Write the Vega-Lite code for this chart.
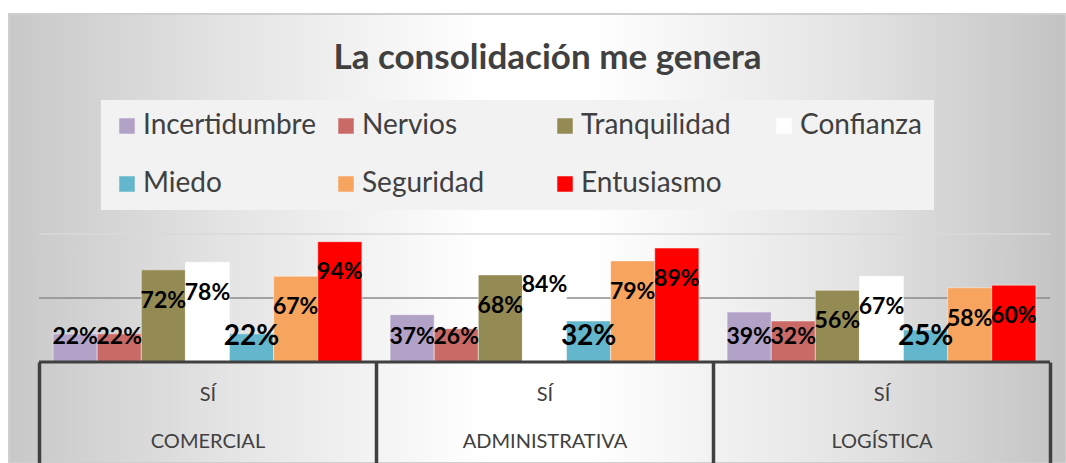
{
  "$schema": "https://vega.github.io/schema/vega-lite/v6.json",
  "width": 1057,
  "height": 449,
  "autosize": {"type": "none"},
  "padding": {"left": 9, "top": 14, "right": 0, "bottom": 0},
  "background": "#ffffff",
  "view": {
    "stroke": "#cfcfcf",
    "strokeWidth": 2,
    "fill": {
      "gradient": "linear", "x1": 0, "y1": 0, "x2": 1, "y2": 0,
      "stops": [
        {"offset": 0, "color": "#c8c8c8"},
        {"offset": 0.2, "color": "#e3e3e3"},
        {"offset": 0.45, "color": "#ffffff"},
        {"offset": 0.55, "color": "#ffffff"},
        {"offset": 0.8, "color": "#e3e3e3"},
        {"offset": 1, "color": "#c3c3c3"}
      ]
    }
  },
  "title": {
    "text": "La consolidación me genera",
    "font": "Lato",
    "fontSize": 35,
    "fontWeight": "bold",
    "color": "#404040",
    "frame": "group",
    "anchor": "middle",
    "baseline": "alphabetic",
    "offset": -90,
    "dx": 10
  },
  "datasets": {
    "barras": [
      {"grupo": "COMERCIAL", "emocion": "Incertidumbre", "valor": 0.22},
      {"grupo": "COMERCIAL", "emocion": "Nervios", "valor": 0.22},
      {"grupo": "COMERCIAL", "emocion": "Tranquilidad", "valor": 0.72},
      {"grupo": "COMERCIAL", "emocion": "Confianza", "valor": 0.78},
      {"grupo": "COMERCIAL", "emocion": "Miedo", "valor": 0.22},
      {"grupo": "COMERCIAL", "emocion": "Seguridad", "valor": 0.67},
      {"grupo": "COMERCIAL", "emocion": "Entusiasmo", "valor": 0.94},
      {"grupo": "ADMINISTRATIVA", "emocion": "Incertidumbre", "valor": 0.37},
      {"grupo": "ADMINISTRATIVA", "emocion": "Nervios", "valor": 0.26},
      {"grupo": "ADMINISTRATIVA", "emocion": "Tranquilidad", "valor": 0.68},
      {"grupo": "ADMINISTRATIVA", "emocion": "Confianza", "valor": 0.84},
      {"grupo": "ADMINISTRATIVA", "emocion": "Miedo", "valor": 0.32},
      {"grupo": "ADMINISTRATIVA", "emocion": "Seguridad", "valor": 0.79},
      {"grupo": "ADMINISTRATIVA", "emocion": "Entusiasmo", "valor": 0.89},
      {"grupo": "LOGÍSTICA", "emocion": "Incertidumbre", "valor": 0.39},
      {"grupo": "LOGÍSTICA", "emocion": "Nervios", "valor": 0.32},
      {"grupo": "LOGÍSTICA", "emocion": "Tranquilidad", "valor": 0.56},
      {"grupo": "LOGÍSTICA", "emocion": "Confianza", "valor": 0.67},
      {"grupo": "LOGÍSTICA", "emocion": "Miedo", "valor": 0.25},
      {"grupo": "LOGÍSTICA", "emocion": "Seguridad", "valor": 0.58},
      {"grupo": "LOGÍSTICA", "emocion": "Entusiasmo", "valor": 0.60}
    ],
    "grupos": [
      {"grupo": "COMERCIAL"},
      {"grupo": "ADMINISTRATIVA"},
      {"grupo": "LOGÍSTICA"}
    ]
  },
  "resolve": {"scale": {"y": "independent"}},
  "layer": [
    {
      "data": {"name": "grupos"},
      "mark": {"type": "rect", "fill": null, "stroke": "#d9d9d9", "strokeWidth": 1},
      "encoding": {
        "x": {"field": "grupo", "type": "nominal", "scale": {"domain": ["COMERCIAL", "ADMINISTRATIVA", "LOGÍSTICA"], "paddingInner": 0, "paddingOuter": 0.0682, "align": 0.652},
          "axis": {"orient": "bottom", "title": null, "domain": false, "ticks": true, "tickBand": "extent", "tickSize": -101, "tickColor": "#404040", "tickWidth": 3.5, "labelAngle": 0, "labelExpr": "datum.label === '' ? '' : ['SÍ', datum.label]", "labelLineHeight": 47, "labelFont": "Lato", "labelFontSize": 20, "labelColor": "#404040", "labelPadding": 22, "labelBaseline": "top"}},
        "y": {"datum": 1, "type": "quantitative", "scale": {"domain": [-0.789, 2.719], "nice": false, "zero": false}, "axis": null},
        "y2": {"datum": 1}
      }
    },
    {
      "data": {"name": "grupos"},
      "mark": {"type": "rect", "fill": null, "stroke": "#8c8c8c", "strokeWidth": 1},
      "encoding": {
        "x": {"field": "grupo", "type": "nominal", "scale": {"domain": ["COMERCIAL", "ADMINISTRATIVA", "LOGÍSTICA"], "paddingInner": 0, "paddingOuter": 0.0682, "align": 0.652}},
        "y": {"datum": 0.5, "type": "quantitative", "scale": {"domain": [-0.789, 2.719], "nice": false, "zero": false}, "axis": null},
        "y2": {"datum": 0.5}
      }
    },
    {
      "data": {"name": "barras"},
      "mark": {"type": "bar", "stroke": "#ffffff", "strokeOpacity": 0.45, "strokeWidth": 1},
      "encoding": {
        "x": {"field": "grupo", "type": "nominal", "scale": {"domain": ["COMERCIAL", "ADMINISTRATIVA", "LOGÍSTICA"], "paddingInner": 0, "paddingOuter": 0.0682, "align": 0.652}},
        "xOffset": {"field": "emocion", "type": "nominal", "scale": {"domain": ["Incertidumbre", "Nervios", "Tranquilidad", "Confianza", "Miedo", "Seguridad", "Entusiasmo"], "paddingInner": 0, "paddingOuter": 0.32}},
        "y": {"field": "valor", "type": "quantitative", "scale": {"domain": [-0.789, 2.719], "nice": false, "zero": false}, "axis": null},
        "y2": {"datum": 0},
        "color": {"field": "emocion", "type": "nominal",
          "scale": {"domain": ["Incertidumbre", "Nervios", "Tranquilidad", "Confianza", "Miedo", "Seguridad", "Entusiasmo"],
                    "range": ["#b3a2c7", "#c96a66", "#948a54", "#ffffff", "#63b6cc", "#f7a45e", "#ff0000"]},
          "legend": {"orient": "none", "direction": "horizontal", "legendX": 92, "legendY": 86, "columns": 4, "gridAlign": "all", "columnPadding": 16, "rowPadding": 30, "padding": 12, "fillColor": "#f2f2f2", "labelFont": "Lato", "labelFontSize": 28, "labelColor": "#404040", "labelOffset": 2, "labelLimit": 300, "symbolType": "square", "symbolSize": 240, "symbolStrokeWidth": 0, "title": null}}
      }
    },
    {
      "data": {"name": "grupos"},
      "mark": {"type": "rect", "fill": null, "stroke": "#404040", "strokeWidth": 3},
      "encoding": {
        "x": {"field": "grupo", "type": "nominal", "scale": {"domain": ["COMERCIAL", "ADMINISTRATIVA", "LOGÍSTICA"], "paddingInner": 0, "paddingOuter": 0.0682, "align": 0.652}},
        "y": {"datum": 0, "type": "quantitative", "scale": {"domain": [-0.789, 2.719], "nice": false, "zero": false}, "axis": null},
        "y2": {"datum": 0}
      }
    },
    {
      "data": {"name": "barras"},
      "mark": {"type": "text", "font": "Lato", "fontWeight": "bold", "color": "#000000", "baseline": "middle", "align": "center", "dy": -126},
      "encoding": {
        "x": {"field": "grupo", "type": "nominal", "scale": {"domain": ["COMERCIAL", "ADMINISTRATIVA", "LOGÍSTICA"], "paddingInner": 0, "paddingOuter": 0.0682, "align": 0.652}},
        "xOffset": {"field": "emocion", "type": "nominal", "scale": {"domain": ["Incertidumbre", "Nervios", "Tranquilidad", "Confianza", "Miedo", "Seguridad", "Entusiasmo"], "paddingInner": 0, "paddingOuter": 0.32}},
        "y": {"field": "valor", "type": "quantitative", "scale": {"domain": [0.436, 3.944], "clamp": true, "nice": false, "zero": false}, "axis": null},
        "text": {"field": "valor", "type": "quantitative", "format": ".0%"},
        "size": {"condition": {"test": "datum.emocion === 'Miedo'", "value": 28}, "value": 23}
      }
    }
  ]
}
